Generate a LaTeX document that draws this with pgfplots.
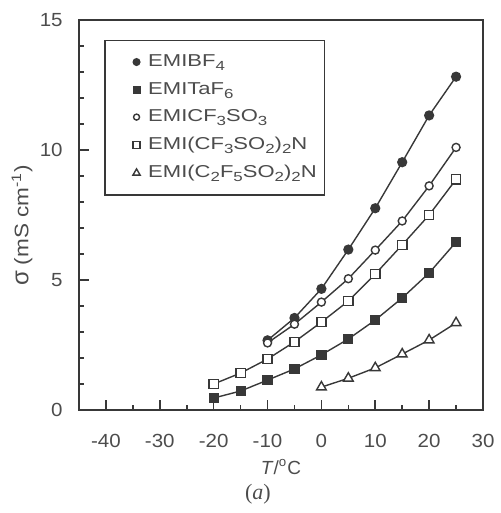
\documentclass[border=0pt]{standalone}
\usepackage{fontspec}
\setmainfont{Liberation Sans}
\newfontfamily\serifnum{Liberation Serif}
\usepackage{graphicx}
\usepackage{pgfplots}
\pgfplotsset{compat=1.18}
\definecolor{ink}{rgb}{0.22,0.22,0.22}
\definecolor{txt}{rgb}{0.3,0.3,0.3}
\newcommand{\sx}[1]{\scalebox{1.28}[1]{#1}}
\newcommand{\sub}[1]{\raisebox{-0.45ex}{\fontsize{6.6}{7}\selectfont #1}}
\begin{document}
\fontsize{9.5}{11.4}\selectfont
\begin{tikzpicture}
\begin{axis}[
  scale only axis, clip=false,
  width=202pt, height=195pt,
  xmin=-45, xmax=30, ymin=0, ymax=15,
  xtick={-40,-30,...,30}, ytick={0,5,10,15},
  minor xtick={-45,-35,...,25},
  minor ytick={1,2,3,4,6,7,8,9,11,12,13,14},
  xtick pos=bottom, ytick pos=left,
  tick align=inside,
  major tick length=5pt, minor tick length=2.7pt,
  axis line style={ink, line width=1pt},
  every tick/.style={ink, line width=0.8pt},
  every minor tick/.style={ink, line width=0.8pt},
  /pgf/number format/assume math mode=true,
  tick label style={font=\fontsize{9.5}{11.4}\selectfont, text=txt},
  xticklabel={\scalebox{1.08}[1]{\pgfmathprintnumber{\tick}}},
  yticklabel={\scalebox{1.08}[1]{\pgfmathprintnumber{\tick}}},
  xticklabel style={anchor=center, yshift=-15.5pt},
  yticklabel style={anchor=east, inner sep=0pt, xshift=-8pt},
  xlabel={\textit{T}/\textsuperscript{o}C},
  xlabel style={at={(axis description cs:0.5,0)}, anchor=center, yshift=-28.5pt, text=txt},
  ylabel={{\fontsize{12}{12}\selectfont σ}\ \scalebox{1.15}[1]{(mS cm\textsuperscript{-1})}},
  ylabel style={at={(axis description cs:-0.141,0.474)}, anchor=center, text=txt, font=\fontsize{9.8}{11}\selectfont},
  legend cell align=left,
  legend style={at={(axis description cs:0.062,0.949)}, anchor=north west,
    draw=ink, line width=0.8pt, text=txt, font=\fontsize{8.6}{10}\selectfont,
    row sep=2.4pt, inner xsep=2pt, inner ysep=5pt},
  legend image code/.code={\draw[#1, every mark/.append style={scale=0.75}] plot[only marks] coordinates {(13.5pt,0pt)}; \path (0pt,0pt) (17pt,0pt);},
]
\addplot[ink, line width=0.7pt, mark=*, mark size=2.2pt, mark options={fill=ink}]
  coordinates {(-10,2.68)(-5,3.54)(0,4.66)(5,6.17)(10,7.76)(15,9.53)(20,11.33)(25,12.82)};
\addlegendentry{\sx{EMIBF\sub{4}}}
\addplot[ink, line width=0.7pt, mark=square*, mark size=2.2pt, mark options={fill=ink}]
  coordinates {(-20,0.46)(-15,0.73)(-10,1.15)(-5,1.58)(0,2.12)(5,2.73)(10,3.46)(15,4.31)(20,5.27)(25,6.46)};
\addlegendentry{\sx{EMITaF\sub{6}}}
\addplot[ink, line width=0.7pt, mark=*, mark size=2pt, mark options={fill=white}]
  coordinates {(-10,2.58)(-5,3.30)(0,4.15)(5,5.05)(10,6.15)(15,7.27)(20,8.62)(25,10.10)};
\addlegendentry{\sx{EMICF\sub{3}SO\sub{3}}}
\addplot[ink, line width=0.7pt, mark=square*, mark size=2.3pt, mark options={fill=white}]
  coordinates {(-20,1.00)(-15,1.42)(-10,1.96)(-5,2.62)(0,3.38)(5,4.19)(10,5.23)(15,6.35)(20,7.50)(25,8.87)};
\addlegendentry{\sx{EMI(CF\sub{3}SO\sub{2})\sub{2}N}}
\addplot[ink, line width=0.7pt, mark=triangle*, mark size=2.8pt, mark options={fill=white}]
  coordinates {(0,0.88)(5,1.22)(10,1.62)(15,2.15)(20,2.69)(25,3.35)};
\addlegendentry{\sx{EMI(C\sub{2}F\sub{5}SO\sub{2})\sub{2}N}}
\node[font=\serifnum\fontsize{11}{12}\selectfont, text=txt] at (axis description cs:0.443,0) [yshift=-42pt] {(\textit{a})};
\end{axis}
\path (-39.5pt,-51.5pt) rectangle (207pt,205pt);
\end{tikzpicture}
\end{document}
